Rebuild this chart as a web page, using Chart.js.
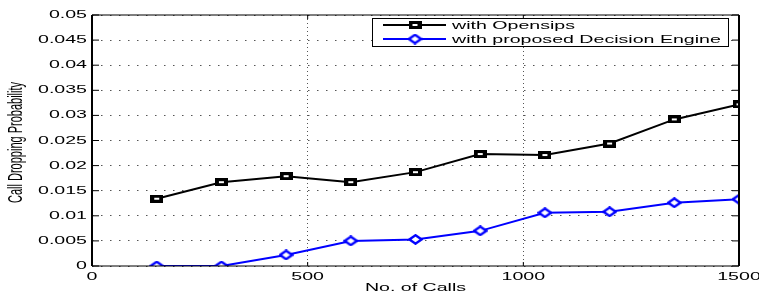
<!DOCTYPE html>
<html>
<head>
<meta charset="utf-8">
<script src="https://cdn.jsdelivr.net/npm/chart.js@4.4.0/dist/chart.umd.min.js"></script>
<style>
  html, body { margin: 0; padding: 0; background: #fff; }
  #wrap { width: 759px; height: 293px; position: relative; }
</style>
</head>
<body>
<div id="wrap"><canvas id="c" width="759" height="293"></canvas></div>
<script>
// calls offered (x axis)
var calls = [150, 300, 450, 600, 750, 900, 1050, 1200, 1350, 1500];
// call dropping probability
var opensips = [0.0134, 0.0167, 0.0179, 0.0167, 0.0187, 0.0223, 0.0221, 0.0244, 0.0292, 0.0322];
var decisionEngine = [0.0, 0.0, 0.0022, 0.0050, 0.0053, 0.0070, 0.0106, 0.0108, 0.0126, 0.0133];

var seriesNames = ["with Opensips", "with proposed Decision Engine"];
var xTicks = [0, 500, 1000, 1500];
var yTicks = [0, 0.005, 0.01, 0.015, 0.02, 0.025, 0.03, 0.035, 0.04, 0.045, 0.05];
var xTitle = "No. of Calls";
var yTitle = "Call Dropping Probability";

// the original figure was stretched sideways, text and markers included
var SX = 1.78;
var FONT = "'Liberation Sans', Arial, sans-serif";

function toPoints(xs, ys) {
    var out = [];
    for (var i = 0; i < xs.length; i++) out.push({x: xs[i], y: ys[i]});
    return out;
}

function squareMarker() {
    var c = document.createElement("canvas");
    c.width = 13; c.height = 8;
    var g = c.getContext("2d");
    g.fillStyle = "#000";
    g.fillRect(0, 0, 13, 8);
    g.fillStyle = "#fff";
    g.fillRect(4, 3, 5, 2);
    return c;
}

function diamondMarker(color) {
    var c = document.createElement("canvas");
    c.width = 15; c.height = 11;
    var g = c.getContext("2d");
    g.strokeStyle = color;
    g.fillStyle = "#fff";
    g.lineWidth = 2.4;
    g.beginPath();
    g.moveTo(7.5, 1.3); g.lineTo(13.6, 5.5); g.lineTo(7.5, 9.7); g.lineTo(1.4, 5.5);
    g.closePath();
    g.fill(); g.stroke();
    return c;
}

var sqImg = squareMarker();
var dmImg = diamondMarker("#0000ff");

function wideText(ctx, text, x, y, align) {
    ctx.save();
    ctx.translate(x, y);
    ctx.scale(SX, 1);
    ctx.textAlign = align;
    ctx.fillText(text, 0, 0);
    ctx.restore();
}

// box frame, inward ticks, labels and the legend box, like the matlab figure
var framePlugin = {
    id: "frame",
    afterDatasetsDraw: function (chart) {
        var ctx = chart.ctx, a = chart.chartArea;
        var xs = chart.scales.x, ys = chart.scales.y;
        ctx.save();
        ctx.strokeStyle = "#000";

        ctx.lineWidth = 1;
        xTicks.forEach(function (v) {
            var px = xs.getPixelForValue(v);
            ctx.beginPath();
            ctx.moveTo(px, a.bottom); ctx.lineTo(px, a.bottom - 4);
            ctx.moveTo(px, a.top); ctx.lineTo(px, a.top + 4);
            ctx.stroke();
        });
        yTicks.forEach(function (v) {
            var py = ys.getPixelForValue(v);
            ctx.beginPath();
            ctx.moveTo(a.left, py); ctx.lineTo(a.left + 7, py);
            ctx.moveTo(a.right, py); ctx.lineTo(a.right - 7, py);
            ctx.stroke();
        });

        ctx.lineWidth = 1.2;
        ctx.beginPath();
        ctx.moveTo(a.left, a.top); ctx.lineTo(a.right, a.top);
        ctx.moveTo(a.left, a.bottom); ctx.lineTo(a.right, a.bottom);
        ctx.stroke();
        ctx.lineWidth = 2;
        ctx.beginPath();
        ctx.moveTo(a.left, a.top); ctx.lineTo(a.left, a.bottom);
        ctx.moveTo(a.right, a.top); ctx.lineTo(a.right, a.bottom);
        ctx.stroke();

        // tick labels
        ctx.fillStyle = "#000";
        ctx.font = "11px " + FONT;
        ctx.textBaseline = "middle";
        yTicks.forEach(function (v) {
            wideText(ctx, String(+v.toFixed(3)), a.left - 5, ys.getPixelForValue(v), "right");
        });
        ctx.textBaseline = "alphabetic";
        xTicks.forEach(function (v) {
            wideText(ctx, String(v), xs.getPixelForValue(v), a.bottom + 14, "center");
        });
        wideText(ctx, xTitle, (a.left + a.right) / 2, a.bottom + 25, "center");

        // y title, rotated
        ctx.save();
        ctx.translate(17, (a.top + a.bottom) / 2 + 2);
        ctx.rotate(-Math.PI / 2);
        ctx.scale(1, SX);
        ctx.font = "11px " + FONT;
        ctx.textAlign = "center";
        ctx.textBaseline = "middle";
        ctx.fillText(yTitle, 0, 0);
        ctx.restore();

        // legend
        var lx = 372, ly = 18, lw = 356, lh = 28;
        ctx.fillStyle = "#fff";
        ctx.fillRect(lx, ly, lw, lh);
        ctx.strokeStyle = "#000";
        ctx.lineWidth = 1;
        ctx.strokeRect(lx + 0.5, ly + 0.5, lw, lh);
        ctx.font = "11px " + FONT;
        ctx.textBaseline = "middle";
        chart.data.datasets.forEach(function (ds, i) {
            var yy = ly + 7 + i * 14;
            ctx.strokeStyle = ds.borderColor;
            ctx.lineWidth = 2;
            ctx.beginPath();
            ctx.moveTo(lx + 11, yy); ctx.lineTo(lx + 74, yy);
            ctx.stroke();
            var img = ds.pointStyle;
            ctx.drawImage(img, lx + 43 - img.width / 2, yy - img.height / 2);
            ctx.fillStyle = "#000";
            wideText(ctx, ds.label, lx + 80, yy + 1, "left");
        });
        ctx.restore();
    }
};

new Chart(document.getElementById("c").getContext("2d"), {
    type: "line",
    data: {
        datasets: [
            {
                label: seriesNames[0],
                data: toPoints(calls, opensips),
                borderColor: "#000",
                borderWidth: 2,
                pointStyle: sqImg,
                tension: 0
            },
            {
                label: seriesNames[1],
                data: toPoints(calls, decisionEngine),
                borderColor: "#0000ff",
                borderWidth: 2,
                pointStyle: dmImg,
                tension: 0
            }
        ]
    },
    options: {
        responsive: false,
        animation: false,
        layout: {padding: {top: 15, right: 20, left: 0, bottom: 0}},
        plugins: {legend: {display: false}, tooltip: {enabled: false}},
        scales: {
            x: {
                type: "linear",
                min: 0,
                max: 1500,
                afterBuildTicks: function (s) {
                    s.ticks = xTicks.map(function (v) { return {value: v}; });
                },
                afterFit: function (s) { s.height = 27; },
                ticks: {display: false},
                grid: {color: "#555", lineWidth: 1, drawTicks: false, tickLength: 0},
                border: {display: false, dash: [1, 3]}
            },
            y: {
                min: 0,
                max: 0.05,
                afterBuildTicks: function (s) {
                    s.ticks = yTicks.map(function (v) { return {value: v}; });
                },
                afterFit: function (s) { s.width = 92; },
                ticks: {display: false},
                grid: {color: "#555", lineWidth: 1, drawTicks: false, tickLength: 0},
                border: {display: false, dash: [1.5, 7.5]}
            }
        }
    },
    plugins: [framePlugin]
});
</script>
</body>
</html>
